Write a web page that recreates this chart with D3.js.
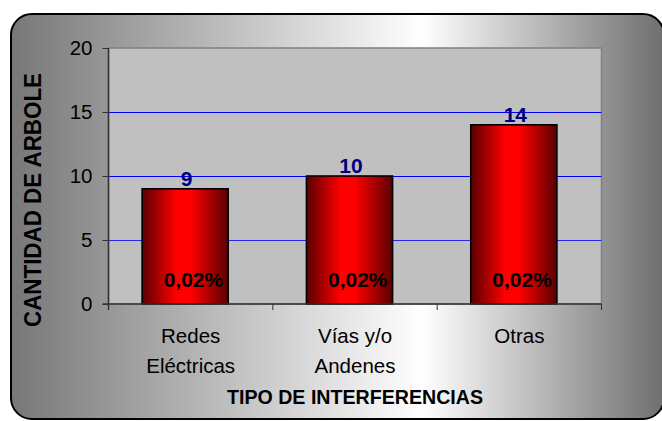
<!DOCTYPE html>
<html>
<head>
<meta charset="utf-8">
<script src="https://cdn.jsdelivr.net/npm/d3@7"></script>
<style>
  body { margin: 0; background: #fff; }
  svg { display: block; font-family: "Liberation Sans", Arial, sans-serif; }
</style>
</head>
<body>
<svg></svg>
<script>
'use strict';

// data
var categories = ['Redes Eléctricas', 'Vías y/o Andenes', 'Otras'];
var labelLines = [['Redes', 'Eléctricas'], ['Vías y/o', 'Andenes'], ['Otras']];
var values = [9, 10, 14];
var percentLabels = ['0,02%', '0,02%', '0,02%'];
var yTicks = [0, 5, 10, 15, 20];
var gridTicks = [5, 10, 15];

var SVG_SIZE = { width: 662, height: 421 };
var PLOT = { left: 108.5, right: 601.5, top: 48, bottom: 304 };

var svg = d3.select('svg')
    .attr('width', SVG_SIZE.width).attr('height', SVG_SIZE.height);

var defs = svg.append('defs');

// chart background gradient (grey -> white -> grey)
var bg = defs.append('linearGradient').attr('id', 'bgGrad')
    .attr('x1', '0%').attr('x2', '100%').attr('y1', '0%').attr('y2', '0%');
bg.append('stop').attr('offset', '0%').attr('stop-color', '#777777');
bg.append('stop').attr('offset', '63%').attr('stop-color', '#ffffff');
bg.append('stop').attr('offset', '100%').attr('stop-color', '#6e6e6e');

// bar gradient (dark red edges, bright red centre)
var barGrad = defs.append('linearGradient').attr('id', 'barGrad')
    .attr('x1', '0%').attr('x2', '100%').attr('y1', '0%').attr('y2', '0%');
barGrad.append('stop').attr('offset', '0%').attr('stop-color', '#5a0000');
barGrad.append('stop').attr('offset', '40%').attr('stop-color', '#ff0000');
barGrad.append('stop').attr('offset', '56%').attr('stop-color', '#ff0000');
barGrad.append('stop').attr('offset', '100%').attr('stop-color', '#5a0000');

// outer frame
svg.append('rect')
    .attr('x', 11).attr('y', 14)
    .attr('width', 653).attr('height', 405)
    .attr('rx', 21).attr('ry', 21)
    .attr('fill', 'url(#bgGrad)')
    .attr('stroke', '#000').attr('stroke-width', 2);

// scales
var yScale = d3.scaleLinear()
    .domain([0, 20])
    .range([PLOT.bottom, PLOT.top]);

var xScale = d3.scaleBand()
    .domain(categories)
    .range([PLOT.left, PLOT.right])
    .paddingInner(0.476)
    .paddingOuter(0.238);

var barShift = -5.5;

// plot area
svg.append('rect')
    .attr('x', PLOT.left).attr('y', PLOT.top)
    .attr('width', PLOT.right - PLOT.left).attr('height', PLOT.bottom - PLOT.top)
    .attr('fill', '#c0c0c0')
    .attr('stroke', '#808080').attr('stroke-width', 1.5);

// gridlines
svg.append('g').selectAll('line')
    .data(gridTicks)
    .enter().append('line')
    .attr('x1', PLOT.left).attr('x2', PLOT.right)
    .attr('y1', function (d) { return Math.round(yScale(d)) + 0.5; })
    .attr('y2', function (d) { return Math.round(yScale(d)) + 0.5; })
    .attr('stroke', '#0000ff')
    .attr('stroke-width', function (d) { return d === 5 ? 0.8 : 1.2; });

// bars
svg.append('g').selectAll('rect')
    .data(values)
    .enter().append('rect')
    .attr('x', function (d, i) { return xScale(categories[i]) + barShift; })
    .attr('y', function (d) { return yScale(d); })
    .attr('width', xScale.bandwidth())
    .attr('height', function (d) { return yScale(0) - yScale(d); })
    .attr('fill', 'url(#barGrad)')
    .attr('stroke', '#000').attr('stroke-width', 1.6);

// value labels above bars
svg.append('g').selectAll('text')
    .data(values)
    .enter().append('text')
    .attr('x', function (d, i) { return xScale(categories[i]) + barShift + xScale.bandwidth() / 2 + 1.5; })
    .attr('y', function (d) { return yScale(d) - 3; })
    .attr('text-anchor', 'middle')
    .attr('font-size', 21).attr('font-weight', 'bold')
    .attr('fill', '#000080')
    .text(function (d) { return d; });

// percent labels inside bars
svg.append('g').selectAll('text')
    .data(percentLabels)
    .enter().append('text')
    .attr('x', function (d, i) { return xScale(categories[i]) + barShift + xScale.bandwidth() - 5; })
    .attr('y', 287)
    .attr('text-anchor', 'end')
    .attr('font-size', 21).attr('font-weight', 'bold')
    .attr('fill', '#000')
    .text(function (d) { return d; });

// y axis
var yAxis = d3.axisLeft(yScale)
    .tickValues(yTicks)
    .tickSize(6)
    .tickSizeOuter(0)
    .tickPadding(10);

var yAxisG = svg.append('g')
    .attr('transform', 'translate(' + PLOT.left + ',0)')
    .call(yAxis);
yAxisG.select('.domain').remove();
yAxisG.selectAll('.tick line').attr('stroke', '#333');
yAxisG.selectAll('.tick text')
    .attr('font-size', 20.5)
    .attr('font-family', '"Liberation Sans", Arial, sans-serif')
    .attr('fill', '#000');

// axis lines
svg.append('line')
    .attr('x1', PLOT.left).attr('x2', PLOT.left)
    .attr('y1', PLOT.top).attr('y2', PLOT.bottom + 6)
    .attr('stroke', '#333').attr('stroke-width', 1.5);
svg.append('line')
    .attr('x1', PLOT.left - 6).attr('x2', PLOT.right)
    .attr('y1', PLOT.bottom).attr('y2', PLOT.bottom)
    .attr('stroke', '#333').attr('stroke-width', 1.5);

// x ticks at band boundaries
var boundaries = d3.range(categories.length + 1).map(function (i) {
    return PLOT.left + i * xScale.step();
});
svg.append('g').selectAll('line')
    .data(boundaries.slice(1))
    .enter().append('line')
    .attr('x1', function (d) { return d; }).attr('x2', function (d) { return d; })
    .attr('y1', PLOT.bottom).attr('y2', PLOT.bottom + 6)
    .attr('stroke', '#333').attr('stroke-width', 1);

// category labels
var catG = svg.append('g').selectAll('text')
    .data(labelLines)
    .enter().append('text')
    .attr('text-anchor', 'middle')
    .attr('font-size', 20.5)
    .attr('fill', '#000');
catG.selectAll('tspan')
    .data(function (d, i) { return d.map(function (l) { return { text: l, i: i }; }); })
    .enter().append('tspan')
    .attr('x', function (d) { return xScale(categories[d.i]) + xScale.bandwidth() / 2; })
    .attr('y', function (d, j) { return 343 + j * 30; })
    .text(function (d) { return d.text; });

// axis titles
svg.append('text')
    .attr('x', 355).attr('y', 404)
    .attr('text-anchor', 'middle')
    .attr('font-size', 21).attr('font-weight', 'bold')
    .attr('textLength', 256).attr('lengthAdjust', 'spacingAndGlyphs')
    .text('TIPO DE INTERFERENCIAS');

svg.append('text')
    .attr('transform', 'translate(41,200) rotate(-90)')
    .attr('text-anchor', 'middle')
    .attr('font-size', 24).attr('font-weight', 'bold')
    .attr('textLength', 254).attr('lengthAdjust', 'spacingAndGlyphs')
    .text('CANTIDAD DE ARBOLE');
</script>
</body>
</html>
